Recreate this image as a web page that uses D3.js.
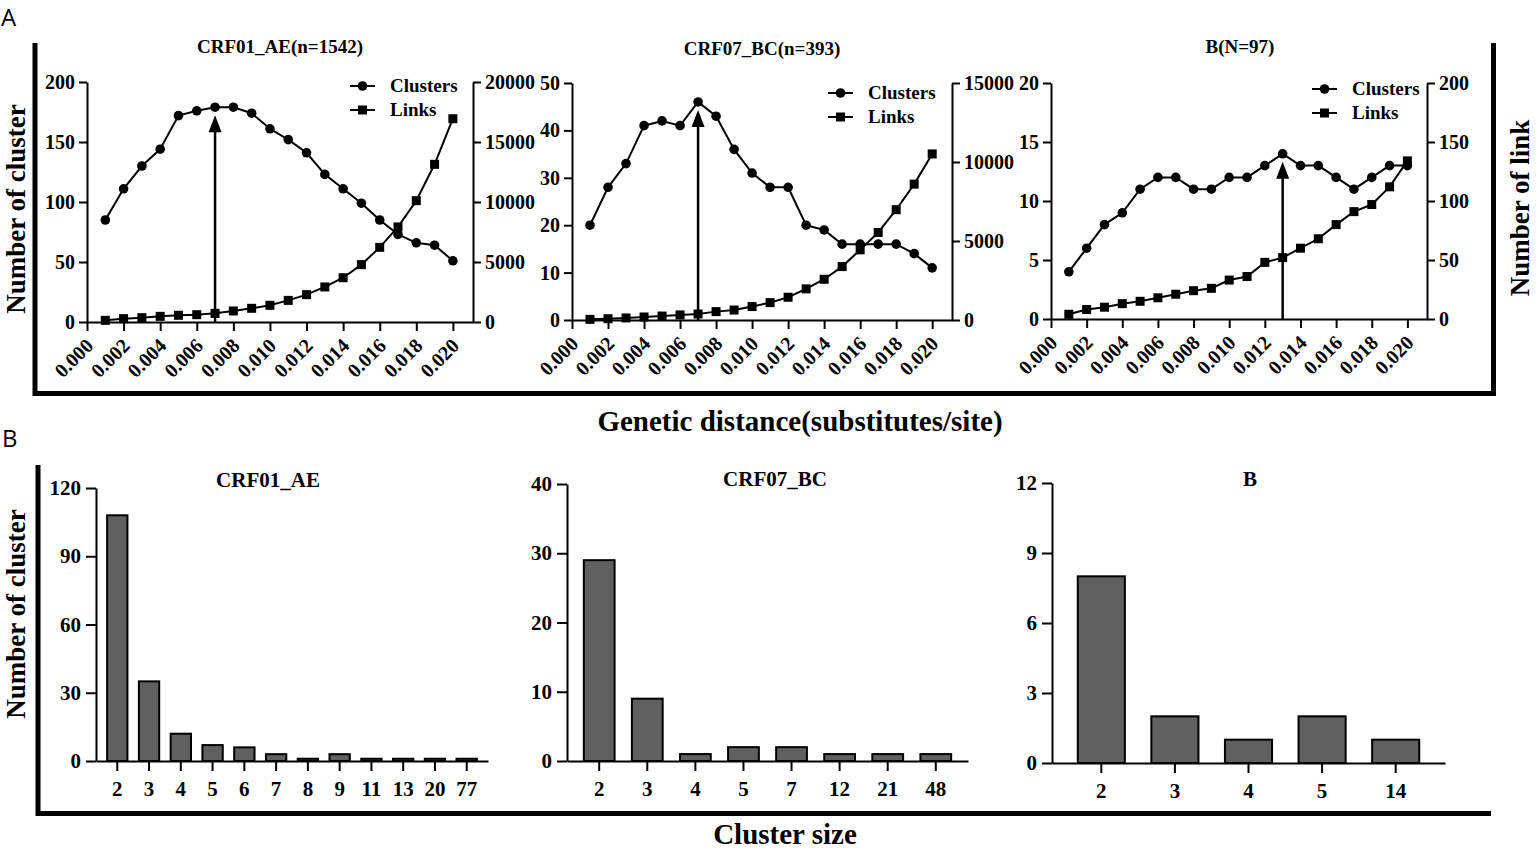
<!DOCTYPE html>
<html>
<head>
<meta charset="utf-8">
<script src="https://cdn.jsdelivr.net/npm/d3@7"></script>
<style>
  body { margin: 0; background: #fff; }
  svg text { font-family: "Liberation Serif", "Times New Roman", serif; font-weight: bold; fill: #000; }
  svg text.tag { font-family: "Open Sans", sans-serif; font-weight: normal; }
</style>
</head>
<body>
<svg id="chart" width="1536" height="851"></svg>
<script>
// genetic distance thresholds (x of panel A)
var distances = [0.001, 0.002, 0.003, 0.004, 0.005, 0.006, 0.007, 0.008, 0.009, 0.010,
                 0.011, 0.012, 0.013, 0.014, 0.015, 0.016, 0.017, 0.018, 0.019, 0.020];
var distanceTicks = [0.000, 0.002, 0.004, 0.006, 0.008, 0.010, 0.012, 0.014, 0.016, 0.018, 0.020];

// CRF01_AE
var aeClusters = [85, 111, 130, 144, 172, 176, 179, 179, 174, 161, 152, 141, 123, 111, 99, 85, 73, 66, 64, 51];
var aeLinks = [140, 280, 360, 470, 560, 610, 720, 920, 1140, 1390, 1800, 2280, 2920, 3690, 4780, 6220, 7920, 10110, 13140, 16940];
var aePeak = 0.007;

// CRF07_BC
var bcClusters = [20, 28, 33, 41, 42, 41, 46, 43, 36, 31, 28, 28, 20, 19, 16, 16, 16, 16, 14, 11];
var bcLinks = [40, 80, 130, 190, 250, 320, 380, 530, 630, 850, 1100, 1440, 1970, 2580, 3380, 4440, 5540, 6980, 8600, 10510];
var bcPeak = 0.007;

// B
var bClusters = [4, 6, 8, 9, 11, 12, 12, 11, 11, 12, 12, 13, 14, 13, 13, 12, 11, 12, 13, 13];
var bLinks = [4, 8, 10, 13, 15, 18, 21, 24, 26, 33, 36, 48, 52, 60, 68, 80, 91, 97, 112, 134];
var bPeak = 0.013;

// cluster size distributions (panel B)
var aeSizes = ["2", "3", "4", "5", "6", "7", "8", "9", "11", "13", "20", "77"];
var aeCounts = [108, 35, 12, 7, 6, 3, 1, 3, 1, 1, 1, 1];
var bcSizes = ["2", "3", "4", "5", "7", "12", "21", "48"];
var bcCounts = [29, 9, 1, 2, 2, 1, 1, 1];
var bSizes = ["2", "3", "4", "5", "14"];
var bCounts = [8, 2, 1, 2, 1];

var svg = d3.select("#chart");

// panel letters and big frames
svg.append("text").attr("class", "tag").attr("x", 1).attr("y", 26).attr("font-size", 24).text("A");
svg.append("text").attr("class", "tag").attr("x", 2).attr("y", 447).attr("font-size", 24).text("B");

svg.append("path")
  .attr("d", "M35,43 V393.5 H1493.5 V43")
  .attr("fill", "none").attr("stroke", "#000").attr("stroke-width", 5);
svg.append("path")
  .attr("d", "M38,465 V813.5 H1491")
  .attr("fill", "none").attr("stroke", "#000").attr("stroke-width", 5);

// shared axis titles
svg.append("text")
  .attr("transform", "translate(25,209) rotate(-90)")
  .attr("text-anchor", "middle").attr("font-size", 27)
  .text("Number of cluster");
svg.append("text")
  .attr("transform", "translate(1529,208) rotate(-90)")
  .attr("text-anchor", "middle").attr("font-size", 27)
  .text("Number of link");
svg.append("text")
  .attr("x", 800).attr("y", 431)
  .attr("text-anchor", "middle").attr("font-size", 29)
  .text("Genetic distance(substitutes/site)");
svg.append("text")
  .attr("transform", "translate(25,614) rotate(-90)")
  .attr("text-anchor", "middle").attr("font-size", 27)
  .text("Number of cluster");
svg.append("text")
  .attr("x", 785).attr("y", 844)
  .attr("text-anchor", "middle").attr("font-size", 29)
  .text("Cluster size");

function styleAxis(g, size) {
  g.attr("font-family", null).attr("font-size", size);
  g.selectAll("path, line").attr("stroke-width", 2);
}

// dual axis line panel
function linePanel(p) {
  var g = svg.append("g");

  var x = d3.scaleLinear().domain([0, 0.0211]).range([p.left, p.right]);
  var yL = d3.scaleLinear().domain([0, p.yMax]).range([p.bottom, p.top]);
  var yR = d3.scaleLinear().domain([0, p.y2Max]).range([p.bottom, p.top]);

  var xAxis = g.append("g")
    .attr("transform", `translate(0,${p.bottom})`)
    .call(d3.axisBottom(x).tickValues(distanceTicks).tickFormat(d3.format(".3f"))
      .tickSize(9).tickSizeOuter(0));
  styleAxis(xAxis, 20);
  xAxis.selectAll("text")
    .attr("x", 0).attr("y", 0).attr("dy", 0)
    .attr("text-anchor", "end")
    .attr("transform", "translate(7,25) rotate(-45)");

  var leftAxis = g.append("g")
    .attr("transform", `translate(${p.left},0)`)
    .call(d3.axisLeft(yL).tickValues(p.yTicks).tickFormat(d3.format("d"))
      .tickSize(8).tickPadding(4).tickSizeOuter(0));
  styleAxis(leftAxis, 20);

  var rightAxis = g.append("g")
    .attr("transform", `translate(${p.right},0)`)
    .call(d3.axisRight(yR).tickValues(p.y2Ticks).tickFormat(d3.format("d"))
      .tickSize(8).tickPadding(4).tickSizeOuter(0));
  styleAxis(rightAxis, 20);

  // title
  g.append("text")
    .attr("x", p.titleX).attr("y", p.titleY)
    .attr("text-anchor", "middle").attr("font-size", 19)
    .text(p.title);

  var clusterLine = d3.line().x((d, i) => x(distances[i])).y(d => yL(d));
  var linkLine = d3.line().x((d, i) => x(distances[i])).y(d => yR(d));

  g.append("path").datum(p.links)
    .attr("d", linkLine).attr("fill", "none").attr("stroke", "#000").attr("stroke-width", 2);
  g.append("path").datum(p.clusters)
    .attr("d", clusterLine).attr("fill", "none").attr("stroke", "#000").attr("stroke-width", 2);

  g.selectAll(".sq").data(p.links).enter().append("rect")
    .attr("x", (d, i) => x(distances[i]) - 4.5)
    .attr("y", d => yR(d) - 4.5)
    .attr("width", 9).attr("height", 9).attr("fill", "#000");

  g.selectAll(".dot").data(p.clusters).enter().append("circle")
    .attr("cx", (d, i) => x(distances[i]))
    .attr("cy", d => yL(d))
    .attr("r", 4.8).attr("fill", "#000");

  // arrow pointing to the peak
  var peakIndex = distances.indexOf(p.peak);
  var ax = x(p.peak);
  var tip = yL(p.clusters[peakIndex]) + 8;
  g.append("line")
    .attr("x1", ax).attr("x2", ax)
    .attr("y1", p.bottom).attr("y2", tip + 10)
    .attr("stroke", "#000").attr("stroke-width", 2.5);
  g.append("path")
    .attr("d", `M${ax},${tip} L${ax - 6.5},${tip + 17} L${ax + 6.5},${tip + 17} Z`)
    .attr("fill", "#000");

  // legend
  var lg = g.append("g").attr("transform", `translate(${p.legendX},${p.legendY})`);
  lg.append("line").attr("x1", 0).attr("x2", 25).attr("y1", 0).attr("y2", 0)
    .attr("stroke", "#000").attr("stroke-width", 2);
  lg.append("circle").attr("cx", 12.5).attr("cy", 0).attr("r", 4.8).attr("fill", "#000");
  lg.append("text").attr("x", 40).attr("y", 6).attr("font-size", 19).text("Clusters");
  lg.append("line").attr("x1", 0).attr("x2", 25).attr("y1", 24).attr("y2", 24)
    .attr("stroke", "#000").attr("stroke-width", 2);
  lg.append("rect").attr("x", 8).attr("y", 19.5).attr("width", 9).attr("height", 9).attr("fill", "#000");
  lg.append("text").attr("x", 40).attr("y", 30).attr("font-size", 19).text("Links");
}

linePanel({
  title: "CRF01_AE(n=1542)", titleX: 280, titleY: 53,
  clusters: aeClusters, links: aeLinks, peak: aePeak,
  left: 87, right: 473, top: 82, bottom: 322,
  yMax: 200, yTicks: [0, 50, 100, 150, 200],
  y2Max: 20000, y2Ticks: [0, 5000, 10000, 15000, 20000],
  legendX: 350, legendY: 86
});
linePanel({
  title: "CRF07_BC(n=393)", titleX: 762, titleY: 55,
  clusters: bcClusters, links: bcLinks, peak: bcPeak,
  left: 572, right: 952, top: 83, bottom: 320,
  yMax: 50, yTicks: [0, 10, 20, 30, 40, 50],
  y2Max: 15000, y2Ticks: [0, 5000, 10000, 15000],
  legendX: 828, legendY: 93
});
linePanel({
  title: "B(N=97)", titleX: 1240, titleY: 53,
  clusters: bClusters, links: bLinks, peak: bPeak,
  left: 1051, right: 1427, top: 83, bottom: 319,
  yMax: 20, yTicks: [0, 5, 10, 15, 20],
  y2Max: 200, y2Ticks: [0, 50, 100, 150, 200],
  legendX: 1312, legendY: 89
});

// bar panel
function barPanel(p) {
  var g = svg.append("g");

  var x = d3.scaleBand().domain(p.sizes).range([p.left, p.right])
    .paddingInner(0.36).paddingOuter(0.35);
  var y = d3.scaleLinear().domain([0, p.yMax]).range([p.bottom, p.top]);

  g.selectAll("rect").data(p.counts).enter().append("rect")
    .attr("x", (d, i) => x(p.sizes[i]))
    .attr("y", d => y(d))
    .attr("width", x.bandwidth())
    .attr("height", d => p.bottom - y(d))
    .attr("fill", "#606060").attr("stroke", "#000").attr("stroke-width", 2);

  var xAxis = g.append("g")
    .attr("transform", `translate(0,${p.bottom})`)
    .call(d3.axisBottom(x).tickSize(10).tickPadding(10).tickSizeOuter(0));
  styleAxis(xAxis, 21);

  var yAxis = g.append("g")
    .attr("transform", `translate(${p.left},0)`)
    .call(d3.axisLeft(y).tickValues(p.yTicks).tickSize(10).tickPadding(5).tickSizeOuter(0));
  styleAxis(yAxis, 21);

  g.append("text")
    .attr("x", p.titleX).attr("y", p.titleY)
    .attr("text-anchor", "middle").attr("font-size", 21)
    .text(p.title);
}

barPanel({
  title: "CRF01_AE", titleX: 268, titleY: 487,
  sizes: aeSizes, counts: aeCounts,
  left: 96, right: 488, top: 488, bottom: 761,
  yMax: 120, yTicks: [0, 30, 60, 90, 120]
});
barPanel({
  title: "CRF07_BC", titleX: 775, titleY: 486,
  sizes: bcSizes, counts: bcCounts,
  left: 567, right: 968, top: 484, bottom: 761,
  yMax: 40, yTicks: [0, 10, 20, 30, 40]
});
barPanel({
  title: "B", titleX: 1250, titleY: 486,
  sizes: bSizes, counts: bCounts,
  left: 1052, right: 1445, top: 483, bottom: 763,
  yMax: 12, yTicks: [0, 3, 6, 9, 12]
});
</script>
</body>
</html>
